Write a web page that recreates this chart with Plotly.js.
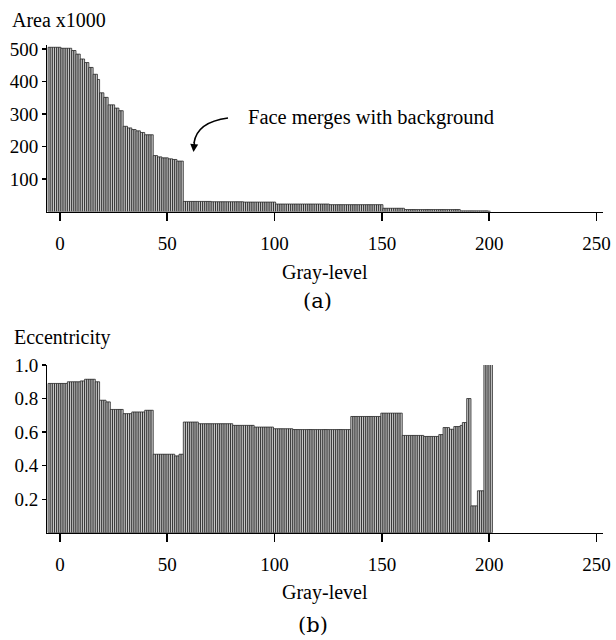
<!DOCTYPE html>
<html>
<head>
<meta charset="utf-8">
<script src="https://cdn.plot.ly/plotly-3.0.1.min.js"></script>
<style>html,body{margin:0;padding:0;background:#fff;}#chart{width:616px;height:640px;}</style>
</head>
<body>
<div id="chart"></div>
<script>
// Gray levels for panel (a): -5 .. 200 ; panel (b): -5 .. 201
const firstGrayLevel = -5;

// Area (x1000) per gray level, panel (a)
const areaK = [
  505,505,505,505,505,505, 502,502,502,502,502, 495,495, 484,484, 469,469, 458,458,
  443,443, 422,422, 406, 365,365, 351,351, 328,328,328, 318,318, 310,310,
  262,262, 257,257, 252,252, 248,248, 243,243, 236,236,236,236,
  172,172, 168,168, 165,165,165, 162,162, 160,160, 155,155,155,
  31,31,31,31,31,31,31,31,31,31,31,31,31,
  30,30,30,30,30,30,30,30,30,30,30,30,30,30,30,
  29,29,29,29,29,29,29,29,29,29,29,29,29,29,29,
  23,23,23,23,23,23,23,23,23,23,23,23,23,23,23,23,23,23,23,23,23,23,23,23,23,
  21,21,21,21,21,21,21,21,21,21,21,21,21,21,21,21,21,21,21,21,21,21,21,21,21,
  10,10,10,10,10,10,10,10,10,10,
  6,6,6,6,6,6,6,6,6,6,6,6,6,6,6,6,6,6,6,6,6,6,6,6,6,6,
  2,2,2,2,2,2,2,2,2,2,2,2,2,
  1
];

// Eccentricity per gray level, panel (b)
const eccentricity = [
  0.89,0.89,0.89,0.89,0.89,0.89,0.89,0.89,0.89,
  0.90,0.90,0.90,0.90,0.90,0.90,
  0.905,0.905,
  0.915,0.915,0.915,0.915,0.915,
  0.90,0.90,
  0.79,0.79,0.79,
  0.78,0.78,
  0.735,0.735,0.735,0.735,0.735,0.735,
  0.71,0.71,0.71,0.71,
  0.72,0.72,0.72,0.72,0.72,0.72,
  0.73,0.73,0.73,0.73,
  0.468,0.468,0.468,0.468,0.468,0.468,0.468,0.468,0.468,0.468,
  0.458,0.458,
  0.468,0.468,
  0.66,0.66,0.66,0.66,0.66,0.66,0.66,
  0.65,0.65,0.65,0.65,0.65,0.65,0.65,0.65,0.65,0.65,0.65,0.65,0.65,0.65,0.65,0.65,
  0.64,0.64,0.64,0.64,0.64,0.64,0.64,0.64,0.64,0.64,
  0.63,0.63,0.63,0.63,0.63,0.63,0.63,0.63,0.63,
  0.62,0.62,0.62,0.62,0.62,0.62,0.62,0.62,0.62,
  0.615,0.615,0.615,0.615,0.615,0.615,0.615,0.615,0.615,0.615,
  0.615,0.615,0.615,0.615,0.615,0.615,0.615,0.615,0.615,0.615,
  0.615,0.615,0.615,0.615,0.615,0.615,0.615,
  0.693,0.693,0.693,0.693,0.693,0.693,0.693,0.693,0.693,0.693,0.693,0.693,0.693,0.693,
  0.713,0.713,0.713,0.713,0.713,0.713,0.713,0.713,0.713,0.713,
  0.58,0.58,0.58,0.58,0.58,0.58,0.58,0.58,0.58,0.58,
  0.574,0.574,0.574,0.574,0.574,0.574,0.574,
  0.585,0.585,
  0.627,0.627,0.627,
  0.617,0.617,
  0.633,0.633,0.633,
  0.64,
  0.657,0.657,
  0.80,0.80,
  0.16,0.16,0.16,
  0.25,0.25,0.25,
  1.05,1.05,1.05,1.05
];

const xTickVals = [0, 50, 100, 150, 200, 250];
const xTickText = ['0', '50', '100', '150', '200', '250'];
const areaTickVals = [100, 200, 300, 400, 500];
const areaTickText = ['100', '200', '300', '400', '500'];
const eccTickVals = [0.2, 0.4, 0.6, 0.8, 1.0];
const eccTickText = ['0.2', '0.4', '0.6', '0.8', '1.0'];

function levels(n) { const a = []; for (let i = 0; i < n; i++) a.push(firstGrayLevel + i); return a; }

const serif = 'Liberation Serif, Times New Roman, serif';
const barStyle = { color: '#c6c6c6', line: { color: '#111', width: 0.7 } };

const traces = [
  { type: 'bar', x: levels(areaK.length), y: areaK, width: 1, marker: barStyle,
    xaxis: 'x', yaxis: 'y', hoverinfo: 'skip' },
  { type: 'bar', x: levels(eccentricity.length), y: eccentricity, width: 1, marker: barStyle,
    xaxis: 'x2', yaxis: 'y2', hoverinfo: 'skip' }
];

const xDomain = [47 / 616, 603 / 616];
const xAxisBase = {
  domain: xDomain, range: [-6, 253], showgrid: false, zeroline: false,
  showline: true, linecolor: '#000', linewidth: 1.6,
  ticks: 'outside', ticklen: 8, tickwidth: 1.6, tickcolor: '#000',
  tickvals: xTickVals, ticktext: xTickText, ticklabelstandoff: 6,
  tickfont: { family: serif, size: 19, color: '#000' }
};
const yAxisBase = {
  showgrid: false, zeroline: false, showline: true, linecolor: '#000', linewidth: 1,
  ticks: 'outside', ticklen: 4, tickwidth: 1.2, tickcolor: '#000',
  tickfont: { family: serif, size: 19, color: '#000' }
};

const layout = {
  width: 616, height: 640,
  margin: { l: 0, r: 0, t: 0, b: 0 },
  paper_bgcolor: '#fff', plot_bgcolor: '#fff',
  showlegend: false, bargap: 0,
  xaxis: Object.assign({}, xAxisBase, { anchor: 'y' }),
  yaxis: Object.assign({}, yAxisBase, { domain: [428.5 / 640, 595 / 640], range: [0, 512],
    tickvals: areaTickVals, ticktext: areaTickText, anchor: 'x' }),
  xaxis2: Object.assign({}, xAxisBase, { anchor: 'y2' }),
  yaxis2: Object.assign({}, yAxisBase, { domain: [107.3 / 640, 275 / 640], range: [0, 1.0],
    tickvals: eccTickVals, ticktext: eccTickText, anchor: 'x2' }),
  shapes: [
    { type: 'path', xref: 'paper', yref: 'paper',
      path: 'M ' + (228 / 616) + ',' + (1 - 118 / 640) + ' Q ' + (197 / 616) + ',' + (1 - 122 / 640) +
            ' ' + (194 / 616) + ',' + (1 - 143 / 640),
      line: { color: '#000', width: 1.6 } }
  ],
  annotations: [
    { text: 'Area x1000', xref: 'paper', yref: 'paper', x: 10 / 616, y: 1 - 20 / 640,
      xanchor: 'left', yanchor: 'middle', showarrow: false, font: { family: serif, size: 20, color: '#000' } },
    { text: 'Face merges with background', xref: 'paper', yref: 'paper', x: 246 / 616, y: 1 - 117 / 640,
      xanchor: 'left', yanchor: 'middle', showarrow: false, font: { family: serif, size: 20.5, color: '#000' } },
    { text: '', xref: 'paper', yref: 'paper', x: 193.5 / 616, y: 1 - 152 / 640,
      showarrow: true, arrowhead: 2, arrowsize: 1, arrowwidth: 1.6, arrowcolor: '#000', ax: 1, ay: -11 },
    { text: 'Gray-level', xref: 'paper', yref: 'paper', x: 325 / 616, y: 1 - 272 / 640,
      xanchor: 'center', yanchor: 'middle', showarrow: false, font: { family: serif, size: 20, color: '#000' } },
    { text: '(a)', xref: 'paper', yref: 'paper', x: 317 / 616, y: 1 - 301 / 640,
      xanchor: 'center', yanchor: 'middle', showarrow: false, font: { family: 'DejaVu Serif, serif', size: 21, color: '#000' } },
    { text: 'Eccentricity', xref: 'paper', yref: 'paper', x: 12 / 616, y: 1 - 337 / 640,
      xanchor: 'left', yanchor: 'middle', showarrow: false, font: { family: serif, size: 20, color: '#000' } },
    { text: 'Gray-level', xref: 'paper', yref: 'paper', x: 325 / 616, y: 1 - 592 / 640,
      xanchor: 'center', yanchor: 'middle', showarrow: false, font: { family: serif, size: 20, color: '#000' } },
    { text: '(b)', xref: 'paper', yref: 'paper', x: 313 / 616, y: 1 - 625 / 640,
      xanchor: 'center', yanchor: 'middle', showarrow: false, font: { family: 'DejaVu Serif, serif', size: 21, color: '#000' } }
  ]
};

Plotly.newPlot('chart', traces, layout, { displayModeBar: false, staticPlot: true });
</script>
</body>
</html>
